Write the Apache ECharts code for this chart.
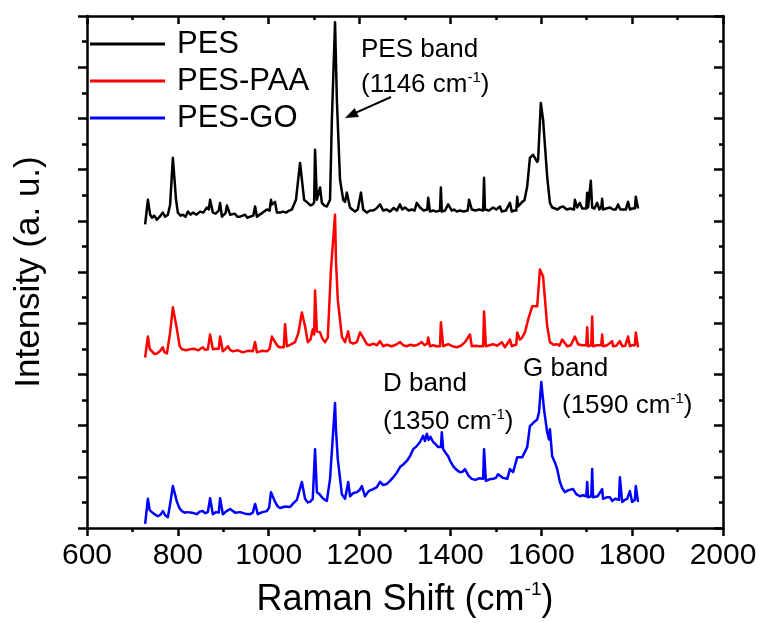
<!DOCTYPE html>
<html>
<head>
<meta charset="utf-8">
<script src="https://cdn.jsdelivr.net/npm/echarts@6/dist/echarts.min.js"></script>
<style>
html,body{margin:0;padding:0;background:#fff;}
#chart{width:760px;height:623px;}
</style>
</head>
<body>
<div id="chart"></div>
<script>
// ---- data (Raman shift in cm^-1, intensity in arbitrary units, stacked) ----
var seriesNames = ['PES', 'PES-PAA', 'PES-GO'];
var xTicks = [600, 800, 1000, 1200, 1400, 1600, 1800, 2000];

var pesData = [[728,5.93],[734,6.41],[739,6.12],[743,6.06],[748,6.1],[754,6.02],[760,6.08],[767,6.16],[772,6.08],[778,6.12],[783,6.32],[789,7.23],[796,6.41],[800,6.16],[806,6.1],[811,6.12],[817,6.08],[822,6.18],[828,6.12],[833,6.16],[841,6.12],[849,6.18],[856,6.16],[864,6.26],[868,6.22],[871,6.41],[877,6.16],[883,6.14],[890,6.2],[893,6.35],[897,6.08],[905,6.15],[908,6.30],[915,6.12],[925,6.14],[931,6.08],[937,6.08],[943,6.1],[948,6.12],[953,6.06],[959,6.08],[966,6.1],[970,6.28],[974,6.08],[980,6.12],[987,6.16],[996,6.22],[1002,6.2],[1005,6.41],[1007,6.32],[1014,6.37],[1018,6.16],[1025,6.16],[1031,6.18],[1038,6.16],[1045,6.2],[1051,6.22],[1060,6.41],[1069,7.13],[1078,6.41],[1086,6.35],[1092,6.3],[1097,6.32],[1100,6.36],[1102,7.39],[1106,6.41],[1113,6.65],[1117,6.35],[1122,6.3],[1128,6.28],[1135,6.41],[1139,7.97],[1146,9.88],[1150,8.36],[1157,6.80],[1164,6.41],[1168,6.37],[1172,6.55],[1179,6.26],[1184,6.22],[1190,6.18],[1196,6.22],[1200,6.2],[1203,6.55],[1208,6.22],[1216,6.16],[1223,6.2],[1230,6.2],[1237,6.24],[1245,6.32],[1252,6.2],[1260,6.22],[1267,6.18],[1275,6.25],[1282,6.2],[1289,6.32],[1294,6.22],[1300,6.26],[1308,6.2],[1315,6.22],[1321,6.2],[1326,6.35],[1333,6.26],[1341,6.2],[1349,6.22],[1351,6.45],[1355,6.18],[1362,6.2],[1369,6.18],[1377,6.2],[1379,6.65],[1381,6.18],[1388,6.2],[1395,6.32],[1403,6.2],[1408,6.22],[1414,6.18],[1421,6.2],[1429,6.18],[1438,6.2],[1441,6.41],[1447,6.22],[1455,6.2],[1463,6.22],[1472,6.2],[1474,6.84],[1476,6.22],[1485,6.2],[1494,6.26],[1501,6.22],[1509,6.28],[1513,6.18],[1522,6.2],[1531,6.35],[1535,6.18],[1540,6.2],[1545,6.2],[1547,6.47],[1549,6.28],[1558,6.37],[1563,6.4],[1569,6.67],[1575,7.23],[1582,7.29],[1591,7.15],[1593,7.19],[1599,8.30],[1604,7.97],[1613,6.86],[1619,6.35],[1624,6.26],[1630,6.24],[1636,6.22],[1641,6.26],[1648,6.28],[1656,6.22],[1664,6.24],[1672,6.22],[1674,6.41],[1679,6.26],[1685,6.35],[1690,6.24],[1699,6.24],[1701,6.55],[1703,6.26],[1707,6.24],[1709,6.78],[1712,6.26],[1717,6.24],[1723,6.35],[1728,6.22],[1732,6.26],[1734,6.43],[1736,6.22],[1743,6.24],[1751,6.26],[1758,6.22],[1764,6.22],[1769,6.32],[1774,6.22],[1780,6.22],[1786,6.22],[1791,6.37],[1795,6.22],[1800,6.24],[1806,6.24],[1808,6.47],[1813,6.24]];

var paaData = [[728,3.33],[734,3.74],[738,3.5],[743,3.45],[748,3.4],[754,3.41],[760,3.45],[767,3.53],[770,3.44],[776,3.41],[783,3.82],[789,4.31],[798,3.88],[804,3.55],[809,3.49],[818,3.47],[827,3.49],[835,3.5],[845,3.47],[855,3.53],[860,3.48],[866,3.49],[871,3.78],[877,3.49],[884,3.5],[890,3.5],[893,3.74],[899,3.45],[905,3.5],[910,3.55],[915,3.48],[921,3.45],[932,3.47],[943,3.43],[954,3.46],[965,3.45],[970,3.63],[974,3.43],[985,3.46],[996,3.45],[1002,3.5],[1007,3.74],[1014,3.63],[1020,3.55],[1025,3.53],[1033,3.53],[1036,3.98],[1040,3.55],[1048,3.58],[1058,3.63],[1065,3.8],[1073,4.21],[1080,3.94],[1086,3.63],[1092,3.68],[1097,3.88],[1100,3.78],[1102,4.64],[1106,3.84],[1113,3.82],[1118,3.7],[1124,3.63],[1130,3.72],[1137,5.05],[1146,6.12],[1148,5.24],[1152,4.46],[1161,3.74],[1168,3.63],[1175,3.84],[1179,3.63],[1186,3.6],[1194,3.63],[1201,3.82],[1208,3.72],[1216,3.59],[1223,3.57],[1230,3.6],[1238,3.57],[1245,3.65],[1252,3.55],[1260,3.58],[1270,3.55],[1280,3.58],[1289,3.63],[1296,3.57],[1304,3.55],[1312,3.58],[1320,3.56],[1328,3.58],[1337,3.63],[1343,3.57],[1349,3.6],[1351,3.72],[1355,3.55],[1362,3.57],[1370,3.55],[1377,3.55],[1379,4.02],[1384,3.55],[1395,3.59],[1404,3.55],[1414,3.53],[1423,3.56],[1432,3.63],[1443,3.78],[1447,3.55],[1455,3.56],[1463,3.55],[1472,3.55],[1474,4.23],[1478,3.55],[1486,3.57],[1494,3.59],[1503,3.56],[1513,3.63],[1520,3.53],[1531,3.68],[1535,3.55],[1540,3.57],[1545,3.58],[1547,3.82],[1553,3.68],[1558,3.72],[1564,3.82],[1571,4.07],[1580,4.33],[1591,4.33],[1597,5.05],[1604,4.91],[1613,3.94],[1619,3.63],[1627,3.58],[1635,3.59],[1640,3.56],[1646,3.68],[1657,3.55],[1665,3.57],[1674,3.74],[1681,3.59],[1690,3.57],[1699,3.57],[1701,3.92],[1703,3.55],[1710,3.57],[1712,4.13],[1714,3.55],[1722,3.57],[1732,3.57],[1734,3.78],[1736,3.55],[1745,3.57],[1756,3.65],[1758,3.55],[1765,3.56],[1773,3.65],[1778,3.55],[1785,3.56],[1791,3.74],[1795,3.55],[1800,3.57],[1806,3.57],[1808,3.82],[1813,3.53]];

var goData = [[728,0.08],[734,0.57],[738,0.35],[743,0.31],[750,0.26],[756,0.23],[762,0.26],[767,0.33],[772,0.25],[778,0.21],[783,0.47],[789,0.82],[798,0.51],[804,0.38],[809,0.33],[815,0.3],[820,0.31],[831,0.3],[842,0.27],[848,0.32],[855,0.33],[860,0.29],[866,0.31],[871,0.58],[877,0.27],[884,0.31],[890,0.3],[893,0.58],[899,0.27],[907,0.33],[915,0.37],[926,0.3],[937,0.31],[948,0.28],[959,0.27],[965,0.3],[970,0.47],[976,0.27],[986,0.31],[996,0.33],[1001,0.4],[1005,0.70],[1014,0.51],[1020,0.42],[1025,0.39],[1036,0.42],[1047,0.41],[1053,0.47],[1062,0.55],[1073,0.90],[1080,0.57],[1086,0.5],[1091,0.51],[1097,0.57],[1100,0.6],[1102,1.54],[1106,0.70],[1112,0.66],[1117,0.60],[1122,0.56],[1128,0.53],[1135,0.96],[1146,2.44],[1148,1.93],[1152,1.35],[1161,0.66],[1168,0.57],[1175,0.90],[1179,0.62],[1186,0.68],[1194,0.70],[1200,0.74],[1205,0.82],[1212,0.62],[1220,0.72],[1230,0.76],[1238,0.8],[1245,0.90],[1252,0.84],[1260,0.86],[1267,0.92],[1274,0.99],[1282,1.08],[1289,1.19],[1296,1.24],[1304,1.31],[1311,1.4],[1318,1.54],[1326,1.6],[1333,1.68],[1340,1.80],[1344,1.70],[1348,1.84],[1352,1.72],[1356,1.78],[1362,1.68],[1367,1.64],[1373,1.58],[1379,1.58],[1381,1.87],[1384,1.54],[1390,1.46],[1395,1.40],[1400,1.3],[1406,1.21],[1413,1.14],[1421,1.09],[1427,1.1],[1432,1.15],[1440,1.02],[1447,0.96],[1455,0.94],[1463,0.97],[1472,0.96],[1474,1.54],[1478,0.92],[1486,0.95],[1494,0.96],[1500,0.98],[1505,1.05],[1515,0.98],[1525,0.96],[1531,1.15],[1538,1.09],[1547,1.38],[1558,1.38],[1569,1.58],[1575,1.99],[1583,2.06],[1591,2.12],[1595,2.26],[1600,2.85],[1606,2.32],[1613,1.87],[1617,1.73],[1619,1.93],[1624,1.40],[1630,1.28],[1635,1.15],[1641,0.90],[1646,0.78],[1652,0.70],[1660,0.74],[1670,0.76],[1677,0.66],[1685,0.62],[1692,0.64],[1699,0.62],[1701,0.90],[1703,0.60],[1710,0.62],[1712,1.15],[1714,0.60],[1724,0.62],[1734,0.76],[1736,0.57],[1744,0.6],[1751,0.60],[1756,0.53],[1763,0.57],[1771,0.55],[1773,0.99],[1778,0.51],[1784,0.55],[1789,0.57],[1795,0.72],[1800,0.51],[1806,0.55],[1808,0.82],[1813,0.51]];

var seriesColors = ['#000000', '#ff0000', '#0000ff'];
// ---------------------------------------------------------------------------

var FONT = "Arial, 'Liberation Sans', sans-serif";
var chart = echarts.init(document.getElementById('chart'), null, {renderer: 'canvas'});

function axisCommon(extra) {
  var base = {
    axisLine: {show: true, onZero: false, lineStyle: {color: '#000', width: 2.5}},
    splitLine: {show: false},
    minorSplitLine: {show: false}
  };
  for (var k in extra) base[k] = extra[k];
  return base;
}

var option = {
  animation: false,
  backgroundColor: '#ffffff',
  grid: {left: 87, right: 37, top: 16, bottom: 93, containLabel: false},
  legend: {
    show: true,
    orient: 'vertical',
    left: 90, top: 27,
    padding: 0,
    itemWidth: 75, itemHeight: 3, itemGap: 3,
    icon: 'rect',
    textStyle: {fontFamily: FONT, fontSize: 31, color: '#000', lineHeight: 34, padding: [0, 0, 0, 7]},
    data: seriesNames
  },
  xAxis: [
    axisCommon({
      type: 'value', min: xTicks[0], max: xTicks[xTicks.length - 1], interval: 200,
      position: 'bottom',
      name: '{a|Raman Shift (cm}{s|-1}{a|)}',
      nameLocation: 'middle', nameGap: 52,
      nameTextStyle: {
        rich: {
          a: {fontFamily: FONT, fontSize: 36, color: '#000', lineHeight: 40},
          s: {fontFamily: FONT, fontSize: 19, color: '#000', lineHeight: 22, verticalAlign: 'top'}
        }
      },
      axisTick: {show: true, inside: false, length: 8, lineStyle: {color: '#000', width: 2.5}},
      minorTick: {show: true, splitNumber: 2, length: 4, lineStyle: {color: '#000', width: 2.5}},
      axisLabel: {show: true, fontFamily: FONT, fontSize: 30, color: '#000', margin: 13,
        formatter: function (v) { return String(v); }}
    }),
    axisCommon({
      type: 'value', min: xTicks[0], max: xTicks[xTicks.length - 1], interval: 200,
      position: 'top',
      axisTick: {show: true, inside: true, length: 8, lineStyle: {color: '#000', width: 2.5}},
      minorTick: {show: true, splitNumber: 2, length: 4, lineStyle: {color: '#000', width: 2.5}},
      axisLabel: {show: false}
    })
  ],
  yAxis: [
    axisCommon({
      type: 'value', min: 0, max: 10, interval: 1, position: 'left',
      name: 'Intensity (a. u.)',
      nameLocation: 'middle', nameGap: 40, nameRotate: 90,
      nameTextStyle: {fontFamily: FONT, fontSize: 35, color: '#000'},
      axisTick: {show: true, inside: false, length: 9, lineStyle: {color: '#000', width: 2.5}},
      minorTick: {show: true, splitNumber: 2, length: 5, lineStyle: {color: '#000', width: 2.5}},
      axisLabel: {show: false}
    }),
    axisCommon({
      type: 'value', min: 0, max: 10, interval: 1, position: 'right',
      axisTick: {show: true, inside: true, length: 9, lineStyle: {color: '#000', width: 2.5}},
      minorTick: {show: true, splitNumber: 2, length: 4, lineStyle: {color: '#000', width: 2.5}},
      axisLabel: {show: false}
    })
  ],
  series: [
    {name: seriesNames[0], type: 'line', data: pesData, color: seriesColors[0]},
    {name: seriesNames[1], type: 'line', data: paaData, color: seriesColors[1]},
    {name: seriesNames[2], type: 'line', data: goData, color: seriesColors[2]}
  ].map(function (s) {
    s.xAxisIndex = 0; s.yAxisIndex = 0;
    s.showSymbol = false; s.symbol = 'none';
    s.lineStyle = {width: 2.5, color: s.color, join: 'round'};
    s.itemStyle = {color: s.color};
    s.emphasis = {disabled: true};
    s.clip = true;
    return s;
  }),
  graphic: []
};

chart.setOption(option);

// annotations (text + arrow)
function annText(left, y, main, sup, tail) {
  var txt = sup ? '{a|' + main + '}{s|' + sup + '}{a|' + tail + '}' : '{a|' + main + '}';
  return {
    type: 'text', left: left, top: y, z: 100,
    style: {
      text: txt,
      rich: {
        a: {fontFamily: FONT, fontSize: 26, fill: '#000', lineHeight: 30},
        s: {fontFamily: FONT, fontSize: 15, fill: '#000', lineHeight: 17, verticalAlign: 'top'}
      }
    }
  };
}
var gr = [
  annText(361, 37, 'PES band'),
  annText(361, 70, '(1146 cm', '-1', ')'),
  annText(383, 371, 'D band'),
  annText(383, 407, '(1350 cm', '-1', ')'),
  annText(523, 356, 'G band'),
  annText(562, 391, '(1590 cm', '-1', ')'),
  {type: 'line', z: 100, shape: {x1: 391, y1: 97, x2: 356, y2: 112.6}, style: {stroke: '#000', lineWidth: 2}},
  {type: 'polygon', z: 100, shape: {points: [[345, 118], [358.9, 117.1], [354.7, 108.1]]}, style: {fill: '#000'}}
];
chart.setOption({graphic: gr});
</script>
</body>
</html>
